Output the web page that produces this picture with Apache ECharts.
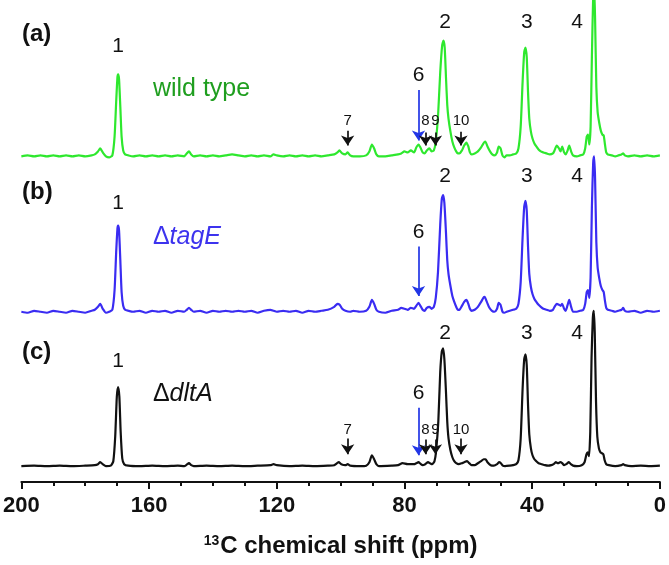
<!DOCTYPE html>
<html><head><meta charset="utf-8">
<script src="https://cdn.jsdelivr.net/npm/echarts@6/dist/echarts.min.js"></script>
<style>html,body{margin:0;padding:0;background:#fff}#c{width:669px;height:565px}</style>
</head><body><div id="c"></div>
<script>
// ---- data: [ppm, intensity above own baseline] ----
const xTicks = [200, 160, 120, 80, 40, 0];
const specA = [[200,0],[198,1],[196,0],[194,1],[192,0],[190,1],[188,0],[186,1],[184,0],[182,1],[180,0],[178,1],[177,2],[176,5],[175.3,8],[174.5,4],[173.5,0],[172.5,-1],[171.5,1],[170.8,20],[170.3,55],[169.9,80],[169.7,83],[169.4,78],[169.0,50],[168.6,20],[168.1,6],[167.5,2],[166.5,1],[165,0],[163,1],[161,0],[159,1],[157,0],[155,1],[153,0],[151,1],[149,0],[148.2,3],[147.5,5],[146.8,2],[146,0],[144,1],[142,0],[140,1],[138,0],[136,1],[134,2],[132,1],[130,0],[128,1],[126,0],[124,1],[122,0],[121,2],[120,1],[118,0],[116,1],[114,0],[112,1],[110,0],[108,1],[106,0],[104,1],[102,2],[101,4],[100.4,6],[99.5,3],[98.5,2],[97.8,4],[97,1],[96,0],[94,0],[92,1],[91,5],[90.2,12],[89.5,8],[88.8,2],[88,0],[86,0],[84,1],[82,2],[81,3],[80,5],[79,4],[78,6],[77,4],[76.3,9],[75.6,12],[75,9],[74.3,4],[73.7,3],[73,6],[72.2,8],[71.5,5],[70.8,6],[70.2,15],[69.5,40],[68.8,85],[68.2,112],[67.8,117],[67.4,110],[67,80],[66.6,52],[66.2,38],[65.6,25],[65,15],[64.4,9],[63.8,5],[63.3,3],[62.8,3],[62,6],[61.3,11],[60.6,14],[60,10],[59.5,4],[59,2],[58,3],[57,5],[56,9],[55.3,13],[54.7,15],[54,10],[53.2,5],[52.5,2],[51.8,1],[51,4],[50.5,10],[49.9,8],[49.3,1],[48.7,-1],[48,1],[47,1],[46,2],[45,3],[44.3,8],[43.6,30],[43,75],[42.5,105],[42.1,110],[41.7,100],[41.3,65],[40.9,38],[40.4,25],[39.9,18],[39.3,13],[38.7,10],[38,7],[37.3,5],[36.5,4],[35.5,3],[34.5,2],[33.5,3],[33,6],[32.3,11],[31.6,8],[31.1,5],[30.6,10],[30,4],[29.5,2],[28.9,6],[28.4,11],[27.8,5],[27.2,1],[26,0],[25,1],[24,2],[23.4,8],[22.9,20],[22.5,22],[22.1,12],[21.7,30],[21.3,100],[20.9,160],[20.6,172],[20.3,140],[19.9,70],[19.5,45],[19,34],[18.5,26],[18,22],[17.6,21],[17.2,12],[16.8,4],[16.3,2],[15,1],[14,0],[13,1],[12,2],[11.5,3],[11,1],[10,0],[8,1],[6,0],[4,1],[2,0],[0,1]];
const specB = [[200,0],[198,-1],[196,1],[194,0],[192,-1],[190,1],[188,0],[186,-1],[184,1],[182,0],[180,-1],[178,1],[177,2],[176,5],[175.3,8],[174.5,3],[173.5,-1],[172.5,0],[171.5,2],[170.8,22],[170.3,60],[169.9,84],[169.7,87],[169.4,82],[169.0,52],[168.6,20],[168.1,6],[167.5,2],[166.5,1],[165,0],[163,1],[161,-1],[159,1],[157,0],[155,1],[153,-1],[151,1],[149,0],[148.2,2],[147.5,4],[146.8,2],[146,0],[144,1],[142,-1],[140,1],[138,0],[136,1],[134,0],[132,1],[130,0],[128,1],[126,-1],[124,1],[122,2],[121,1],[120,0],[118,1],[116,0],[114,1],[112,-1],[110,1],[108,0],[106,1],[104,2],[102,5],[101,8],[100.3,7],[99.5,3],[98.5,1],[97,0],[96,1],[94,0],[92,1],[91,5],[90.2,12],[89.5,8],[88.8,2],[88,0],[86,-1],[84,1],[82,2],[81,4],[80,3],[79,2],[78,4],[77,3],[76.3,6],[75.6,9],[75,6],[74.3,2],[73.7,1],[73,4],[72.2,5],[71.5,3],[70.8,5],[70.2,14],[69.5,40],[68.8,88],[68.3,114],[67.9,118],[67.5,110],[67,80],[66.6,52],[66.2,38],[65.6,26],[65,16],[64.4,10],[63.8,5],[63.3,2],[62.8,2],[62,6],[61.3,10],[60.6,12],[60,8],[59.5,3],[59,1],[58,2],[57,5],[56,10],[55.3,14],[54.9,15],[54.2,10],[53.4,4],[52.6,1],[51.8,0],[51,3],[50.5,9],[49.9,7],[49.3,0],[48.7,-1],[48,0],[47,1],[46,2],[45,3],[44.3,8],[43.6,30],[43,75],[42.5,106],[42.1,112],[41.7,102],[41.3,66],[40.9,38],[40.4,25],[39.9,18],[39.3,13],[38.7,10],[38,7],[37.3,5],[36.5,3],[35.5,2],[34.5,1],[33.5,2],[33,5],[32.3,8],[31.6,7],[31.1,6],[30.6,8],[30,3],[29.5,1],[28.9,7],[28.4,12],[27.8,5],[27.2,0],[26,0],[25,1],[24,2],[23.4,8],[22.9,20],[22.5,22],[22.1,14],[21.7,35],[21.3,105],[20.9,150],[20.6,157],[20.3,135],[19.9,70],[19.5,45],[19,34],[18.5,26],[18,22],[17.6,20],[17.2,11],[16.8,4],[16.3,2],[15,1],[14,0],[13,1],[12,2],[11.5,4],[11,1],[10,0],[8,1],[6,-1],[4,1],[2,0],[0,1]];
const specC = [[200,0],[196,0.5],[192,0],[188,0.5],[184,0],[180,0.5],[177,1],[176,2],[175.3,4],[174.5,2],[173.5,0],[172,0.5],[171.2,5],[170.6,30],[170.1,70],[169.7,80],[169.3,70],[168.9,35],[168.4,8],[167.8,2],[166.5,0.5],[163,0],[159,0.5],[155,0],[151,0.5],[149,0],[148.2,1.5],[147.5,3],[146.8,1],[146,0],[142,0.5],[138,0],[134,0.5],[130,0],[126,0.5],[122,1],[121,2],[120,1],[116,0],[112,0.5],[108,0],[104,0.5],[102,1],[100.6,4],[99.8,2],[98.5,1],[97.8,2],[97,0.5],[94,0],[92,0.5],[91,4],[90.2,11],[89.5,7],[88.8,2],[88,0],[84,0.5],[82,1],[80.6,3],[79,2],[77,2],[76.3,3],[75.6,4],[75,2.5],[74.3,1],[73.5,2],[72.6,4],[72,3],[71.3,2],[70.6,5],[70.1,15],[69.4,45],[68.8,95],[68.3,116],[67.9,119],[67.5,108],[67,75],[66.6,45],[66.2,28],[65.6,16],[65,9],[64.4,5],[63.8,3],[63,2],[62,3],[61.3,4],[60.4,5],[59.7,3],[59,1],[58,1],[57,3],[56,5],[55.2,7],[54.6,7],[54,4],[53,1],[52,0.5],[51,2],[50.4,4],[49.8,3],[49.2,0.5],[48.5,0],[47,0.5],[46,1],[45,2],[44.3,6],[43.6,28],[43,78],[42.5,108],[42.1,113],[41.7,102],[41.3,62],[40.9,32],[40.4,18],[39.9,11],[39.3,7],[38.7,5],[38,3],[37,2],[36,1],[35,0.5],[34,1],[33.3,2],[32.6,4],[31.9,3],[31.2,4],[30.6,3],[30,1],[29.3,2],[28.5,4],[27.9,2],[27.2,0.5],[26,0],[24.5,1],[23.6,4],[23,12],[22.6,14],[22.2,10],[21.8,35],[21.4,110],[21,150],[20.7,157],[20.4,135],[20,65],[19.6,30],[19.1,18],[18.6,14],[18.1,13],[17.7,12],[17.3,6],[16.8,2],[16,1],[14,0],[12,1],[11.5,2],[11,1],[9,0],[6,0.5],[3,0],[0,0.5]];
const peakLabels = ['1', '2', '3', '4'];
const peakLabelPpm = [169.7, 67.3, 41.7, 25.9];
const minorLabels = ['7', '8', '9', '10'];
const minorPpm = [97.8, 73.4, 70.3, 62.3];
const site6Ppm = 75.6;
const traceNames = ['wild type', '{d|Δ}{i|tagE}', '{d|Δ}{i|dltA}'];
const panelTags = ['(a)', '(b)', '(c)'];

// ---- layout / style ----
const FONT = "'Liberation Sans', Arial, sans-serif";
const YMAX = 487;
const baseOffsets = [329, 172, 16];
const lineColors = ['#2ee82e', '#3a2cf2', '#111111'];
const nameColors = ['#1f9e1f', '#3d33ee', '#111111'];
const ARROW_BLUE = '#2236e6';
// per-trace annotation heights above baseline
const ann = [
  {num1: 111, num: 136, name: 68, six: 82, sixArrow: [67, 16], small: 36, smallArrows: [[26,11],[24,11],[24,11],[25,11]], showSmall: true},
  {num1: 110, num: 137, name: 75, six: 80, sixArrow: [66, 16], showSmall: false},
  {num1: 106, num: 134, name: 73, six: 74, sixArrow: [59, 11], small: 37, smallArrows: [[28,12],[27,12],[27,12],[28,12]], showSmall: true}
];

function shift(spec, off) { return spec.map(p => [p[0], p[1] + off]); }
function textPoint(ppm, y, text, size, color) {
  return {
    coord: [ppm, y], symbol: 'circle', symbolSize: 1,
    itemStyle: {color: 'rgba(0,0,0,0)'},
    label: {show: true, position: 'inside', formatter: text, fontSize: size, color: color,
            fontFamily: FONT, fontWeight: 'normal'}
  };
}

const series = [specA, specB, specC].map((spec, i) => {
  const off = baseOffsets[i], a = ann[i];
  const points = [];
  peakLabels.forEach((t, k) => {
    points.push(textPoint(peakLabelPpm[k], off + (k === 0 ? a.num1 : a.num), t, 21, '#111'));
  });
  const nm = textPoint(158.8, off + a.name, traceNames[i], 25, nameColors[i]);
  nm.label.align = 'left';
  nm.label.rich = {
    d: {fontSize: 25, color: nameColors[i], fontFamily: FONT},
    i: {fontSize: 25, color: nameColors[i], fontFamily: FONT, fontStyle: 'italic'}
  };
  points.push(nm);
  points.push(textPoint(site6Ppm, off + a.six, '6', 21, '#111'));
  const lines = [[{coord: [site6Ppm, off + a.sixArrow[0]], lineStyle: {color: ARROW_BLUE, width: 1.7, type: 'solid'}, itemStyle: {color: ARROW_BLUE}},
                  {coord: [site6Ppm, off + a.sixArrow[1]]}]];
  if (a.showSmall) {
    minorLabels.forEach((t, k) => {
      points.push(textPoint(minorPpm[k], off + a.small, t, 15, '#111'));
      lines.push([{coord: [minorPpm[k], off + a.smallArrows[k][0]], lineStyle: {color: '#111', width: 1.7, type: 'solid'}, itemStyle: {color: '#111'}},
                  {coord: [minorPpm[k], off + a.smallArrows[k][1]]}]);
    });
  }
  return {
    type: 'line', data: shift(spec, off), showSymbol: false, smooth: 0.2,
    lineStyle: {color: lineColors[i], width: 2.2}, itemStyle: {color: lineColors[i]},
    clip: true, silent: true, z: 3 - i,
    markPoint: {silent: true, animation: false, data: points},
    markLine: {silent: true, animation: false, symbol: ['none', 'arrow'], symbolSize: 10,
               lineStyle: {type: 'solid', width: 1.7},
               label: {show: false}, data: lines}
  };
});

const chart = echarts.init(document.getElementById('c'), null, {renderer: 'canvas'});
chart.setOption({
  animation: false,
  backgroundColor: '#fff',
  grid: {left: 20, right: 9, top: 0, bottom: 78, containLabel: false},
  xAxis: {
    type: 'value', inverse: true, min: 0, max: 200, interval: 40,
    axisLine: {lineStyle: {color: '#111', width: 2}},
    axisTick: {show: true, inside: false, length: 7, lineStyle: {color: '#111', width: 2}},
    minorTick: {show: true, splitNumber: 4, length: 4, lineStyle: {color: '#111', width: 2}},
    splitLine: {show: false},
    axisLabel: {fontSize: 22, fontWeight: 'bold', color: '#111', fontFamily: FONT, margin: 13,
                formatter: v => xTicks.includes(v) ? String(v) : ''},
    name: '{s|13}C chemical shift (ppm)', nameLocation: 'middle', nameGap: 52,
    nameTextStyle: {fontSize: 24, fontWeight: 'bold', color: '#111', fontFamily: FONT,
      rich: {s: {fontSize: 14, fontWeight: 'bold', color: '#111', fontFamily: FONT, verticalAlign: 'top', lineHeight: 14, padding: [0, 1, 12, 0]}}}
  },
  yAxis: {type: 'value', min: 0, max: YMAX, show: false},
  graphic: panelTags.map((t, i) => ({
    type: 'text', left: 22, top: [22, 180, 340][i],
    style: {text: t, font: "bold 24px " + FONT, fill: '#111'}
  })),
  series: series
});
</script></body></html>
